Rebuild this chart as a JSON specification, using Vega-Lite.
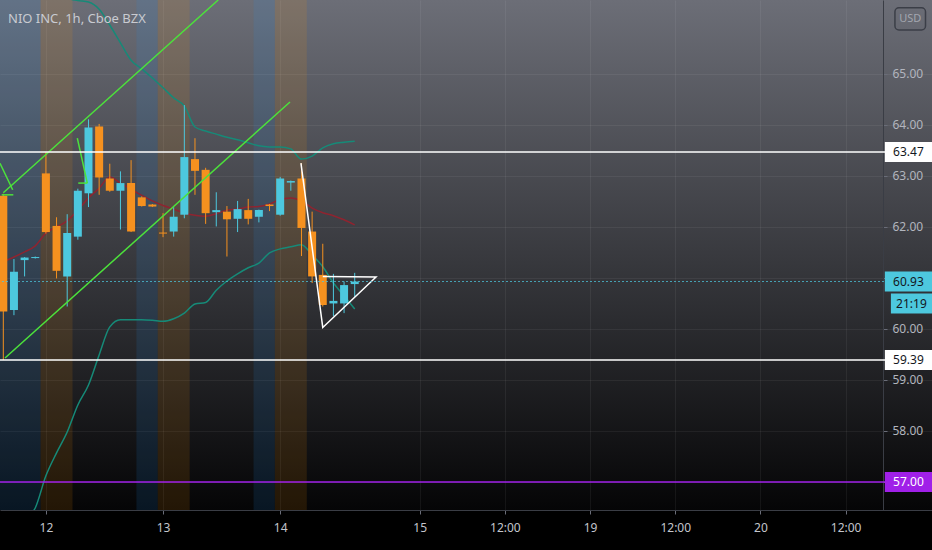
{
  "$schema": "https://vega.github.io/schema/vega-lite/v6.json",
  "width": 932,
  "height": 510,
  "autosize": {"type": "none"},
  "padding": {"left": 0, "top": 0, "right": 0, "bottom": 40},
  "background": "#000000",
  "title": {"text": "NIO INC, 1h, Cboe BZX", "anchor": "start", "frame": "group", "orient": "top", "offset": -36, "dx": 8, "baseline": "alphabetic", "fontSize": 13, "fontWeight": "normal", "font": "Noto Sans", "color": "#c9cbd1"},
  "config": {
    "view": {"stroke": null, "fill": {"gradient": "linear", "x1": 0, "y1": 0, "x2": 0, "y2": 1, "stops": [{"offset": 0, "color": "#6c6e77"}, {"offset": 1, "color": "#050506"}]}},
    "font": "Noto Sans",
    "scale": {"continuousPadding": 0}
  },
  "datasets": {
    "sessions": [
      {"s": -1.5, "e": 3.5, "kind": "post"},
      {"s": 3.5, "e": 6.5, "kind": "pre"},
      {"s": 12.5, "e": 14.5, "kind": "post"},
      {"s": 14.5, "e": 17.5, "kind": "pre"},
      {"s": 23.5, "e": 25.5, "kind": "post"},
      {"s": 25.5, "e": 28.5, "kind": "pre"}
    ],
    "candles": [
      {"i": 0, "o": 62.61, "h": 62.65, "l": 59.39, "c": 60.34},
      {"i": 1, "o": 60.37, "h": 61.37, "l": 60.27, "c": 61.12},
      {"i": 2, "o": 61.35, "h": 61.41, "l": 61.03, "c": 61.40},
      {"i": 3, "o": 61.39, "h": 61.42, "l": 61.38, "c": 61.41},
      {"i": 4, "o": 63.05, "h": 63.47, "l": 61.87, "c": 61.90},
      {"i": 5, "o": 62.02, "h": 62.19, "l": 60.99, "c": 61.14},
      {"i": 6, "o": 61.03, "h": 62.25, "l": 60.44, "c": 61.88},
      {"i": 7, "o": 61.81, "h": 62.75, "l": 61.75, "c": 62.71},
      {"i": 8, "o": 62.66, "h": 64.11, "l": 62.39, "c": 63.95},
      {"i": 9, "o": 63.97, "h": 64.02, "l": 62.63, "c": 62.97},
      {"i": 10, "o": 62.95, "h": 63.24, "l": 62.69, "c": 62.71},
      {"i": 11, "o": 62.71, "h": 63.09, "l": 61.95, "c": 62.86},
      {"i": 12, "o": 62.86, "h": 63.31, "l": 61.90, "c": 61.91},
      {"i": 13, "o": 62.58, "h": 62.60, "l": 62.40, "c": 62.41},
      {"i": 14, "o": 62.44, "h": 62.45, "l": 62.39, "c": 62.40},
      {"i": 15, "o": 61.89, "h": 62.27, "l": 61.80, "c": 61.87},
      {"i": 16, "o": 61.91, "h": 62.39, "l": 61.81, "c": 62.20},
      {"i": 17, "o": 62.24, "h": 64.39, "l": 62.17, "c": 63.37},
      {"i": 18, "o": 63.33, "h": 63.74, "l": 62.63, "c": 63.10},
      {"i": 19, "o": 63.12, "h": 63.16, "l": 62.06, "c": 62.27},
      {"i": 20, "o": 62.29, "h": 62.68, "l": 62.01, "c": 62.33},
      {"i": 21, "o": 62.30, "h": 62.41, "l": 61.42, "c": 62.15},
      {"i": 22, "o": 62.16, "h": 62.51, "l": 61.90, "c": 62.35},
      {"i": 23, "o": 62.33, "h": 62.55, "l": 62.05, "c": 62.16},
      {"i": 24, "o": 62.20, "h": 62.34, "l": 62.09, "c": 62.33},
      {"i": 25, "o": 62.44, "h": 62.45, "l": 62.31, "c": 62.41},
      {"i": 26, "o": 62.24, "h": 62.98, "l": 62.22, "c": 62.95},
      {"i": 27, "o": 62.87, "h": 62.91, "l": 62.71, "c": 62.90},
      {"i": 28, "o": 62.95, "h": 63.25, "l": 61.43, "c": 61.98},
      {"i": 29, "o": 61.91, "h": 62.30, "l": 60.90, "c": 61.03},
      {"i": 30, "o": 61.06, "h": 61.67, "l": 60.44, "c": 60.47},
      {"i": 31, "o": 60.50, "h": 61.08, "l": 60.25, "c": 60.55},
      {"i": 32, "o": 60.50, "h": 60.93, "l": 60.31, "c": 60.86},
      {"i": 33, "o": 60.88, "h": 61.10, "l": 60.63, "c": 60.93}
    ],
    "ind": [
      {"i": 0, "ma": 61.32, "up": 68.6, "lo": 55.47},
      {"i": 1, "ma": 61.41, "up": 68.1, "lo": 55.86},
      {"i": 2, "ma": 61.51, "up": 67.6, "lo": 56.25},
      {"i": 3, "ma": 61.63, "up": 67.2, "lo": 56.49},
      {"i": 4, "ma": 61.88, "up": 66.9, "lo": 57.12},
      {"i": 5, "ma": 62.00, "up": 66.65, "lo": 57.57},
      {"i": 6, "ma": 62.12, "up": 66.49, "lo": 57.98},
      {"i": 7, "ma": 62.33, "up": 66.44, "lo": 58.51},
      {"i": 8, "ma": 62.57, "up": 66.41, "lo": 58.90},
      {"i": 9, "ma": 62.76, "up": 66.27, "lo": 59.49},
      {"i": 10, "ma": 62.98, "up": 65.96, "lo": 60.04},
      {"i": 11, "ma": 62.86, "up": 65.61, "lo": 60.18},
      {"i": 12, "ma": 62.74, "up": 65.27, "lo": 60.18},
      {"i": 13, "ma": 62.62, "up": 65.10, "lo": 60.18},
      {"i": 14, "ma": 62.51, "up": 64.92, "lo": 60.17},
      {"i": 15, "ma": 62.42, "up": 64.73, "lo": 60.15},
      {"i": 16, "ma": 62.35, "up": 64.53, "lo": 60.20},
      {"i": 17, "ma": 62.27, "up": 64.37, "lo": 60.31},
      {"i": 18, "ma": 62.23, "up": 63.96, "lo": 60.49},
      {"i": 19, "ma": 62.21, "up": 63.88, "lo": 60.52},
      {"i": 20, "ma": 62.26, "up": 63.82, "lo": 60.76},
      {"i": 21, "ma": 62.33, "up": 63.76, "lo": 60.94},
      {"i": 22, "ma": 62.35, "up": 63.71, "lo": 61.08},
      {"i": 23, "ma": 62.39, "up": 63.65, "lo": 61.20},
      {"i": 24, "ma": 62.40, "up": 63.59, "lo": 61.29},
      {"i": 25, "ma": 62.45, "up": 63.57, "lo": 61.49},
      {"i": 26, "ma": 62.54, "up": 63.57, "lo": 61.57},
      {"i": 27, "ma": 62.57, "up": 63.53, "lo": 61.61},
      {"i": 28, "ma": 62.51, "up": 63.33, "lo": 61.65},
      {"i": 29, "ma": 62.37, "up": 63.39, "lo": 61.45},
      {"i": 30, "ma": 62.28, "up": 63.55, "lo": 61.22},
      {"i": 31, "ma": 62.22, "up": 63.63, "lo": 60.90},
      {"i": 32, "ma": 62.14, "up": 63.66, "lo": 60.65},
      {"i": 33, "ma": 62.04, "up": 63.68, "lo": 60.39}
    ],
    "green": [
      {"id": "chA", "ord": 0, "i": 0, "p": 62.67},
      {"id": "chA", "ord": 1, "i": 20.18, "p": 66.45},
      {"id": "chB", "ord": 0, "i": 0.16, "p": 59.43},
      {"id": "chB", "ord": 1, "i": 26.92, "p": 64.45},
      {"id": "z1a", "ord": 0, "i": -0.31, "p": 63.25},
      {"id": "z1a", "ord": 1, "i": 0.88, "p": 62.73},
      {"id": "z1b", "ord": 0, "i": -0.15, "p": 62.63},
      {"id": "z1b", "ord": 1, "i": 0.94, "p": 62.63},
      {"id": "z2a", "ord": 0, "i": 6.95, "p": 63.74},
      {"id": "z2a", "ord": 1, "i": 7.89, "p": 62.86},
      {"id": "z2b", "ord": 0, "i": 7.04, "p": 62.86},
      {"id": "z2b", "ord": 1, "i": 7.89, "p": 62.86}
    ],
    "white": [
      {"id": "tri", "ord": 0, "i": 27.95, "p": 63.25},
      {"id": "tri", "ord": 1, "i": 30.0, "p": 60.03},
      {"id": "tri", "ord": 2, "i": 35.0, "p": 61.02},
      {"id": "tri", "ord": 3, "i": 30.0, "p": 61.03}
    ],
    "hlines": [
      {"p": 63.47, "kind": "white"},
      {"p": 59.39, "kind": "white"},
      {"p": 57.0, "kind": "purple"}
    ],
    "tags": [
      {"p": 63.47, "label": "63.47", "kind": "white"},
      {"p": 59.39, "label": "59.39", "kind": "white"},
      {"p": 60.93, "label": "60.93", "kind": "cyan"},
      {"p": 57.0, "label": "57.00", "kind": "purple"}
    ]
  },
  "layer": [
    {
      "data": {"name": "sessions"},
      "mark": {"type": "rect", "opacity": 0.12},
      "encoding": {
        "x": {"field": "s", "type": "quantitative", "scale": {"domain": [-0.31, 87.21], "nice": false, "zero": false, "padding": 0},
          "axis": {"values": [4, 15, 26, 39.1, 47.1, 55.1, 63.1, 71.1, 79.1],
            "labelExpr": "datum.value==4?'12':datum.value==15?'13':datum.value==26?'14':datum.value==39.1?'15':datum.value==55.1?'19':datum.value==71.1?'20':'12:00'",
            "title": null, "grid": true, "gridColor": "#ffffff", "gridOpacity": 0.06,
            "domainColor": "#3a3d45", "tickColor": "#6a6d78", "tickSize": 4,
            "labelColor": "#c3c5cc", "labelFontSize": 12, "labelFont": "Noto Sans", "labelPadding": 8,
            "labelFlush": false, "labelOverlap": false}},
        "x2": {"field": "e"},
        "color": {"condition": {"test": "datum.kind=='pre'", "value": "#ff9800"}, "value": "#2196f3"}
      }
    },
    {
      "data": {"name": "ind"},
      "mark": {"type": "line", "color": "#168a78", "strokeWidth": 1.5, "interpolate": "monotone", "clip": true},
      "encoding": {
        "x": {"field": "i", "type": "quantitative", "title": null, "scale": {"domain": [-0.31, 87.21], "nice": false, "zero": false, "padding": 0}},
        "y": {"field": "up", "type": "quantitative", "scale": {"domain": [56.45, 66.45], "nice": false, "zero": false, "padding": 0},
          "axis": {"orient": "right", "offset": -49, "values": [57, 58, 59, 60, 61, 62, 63, 64, 65],
            "labelExpr": "datum.value==57||datum.value==61?'':format(datum.value,'.2f')",
            "title": null, "grid": true, "gridColor": "#ffffff", "gridOpacity": 0.06,
            "domainColor": "#3a3d45", "tickColor": "#6a6d78", "tickSize": 4, "labelPadding": 5,
            "labelColor": "#b2b5be", "labelFontSize": 12, "labelFont": "Noto Sans", "labelAlign": "left", "labelBaseline": "middle"}}
      }
    },
    {
      "data": {"name": "ind"},
      "mark": {"type": "line", "color": "#168a78", "strokeWidth": 1.5, "interpolate": "monotone", "clip": true},
      "encoding": {
        "x": {"field": "i", "type": "quantitative", "title": null, "scale": {"domain": [-0.31, 87.21], "nice": false, "zero": false, "padding": 0}},
        "y": {"field": "lo", "type": "quantitative", "title": null, "scale": {"domain": [56.45, 66.45], "nice": false, "zero": false, "padding": 0}}
      }
    },
    {
      "data": {"name": "ind"},
      "mark": {"type": "line", "color": "#8e2430", "strokeWidth": 1.5, "interpolate": "monotone", "clip": true},
      "encoding": {
        "x": {"field": "i", "type": "quantitative", "title": null, "scale": {"domain": [-0.31, 87.21], "nice": false, "zero": false, "padding": 0}},
        "y": {"field": "ma", "type": "quantitative", "title": null, "scale": {"domain": [56.45, 66.45], "nice": false, "zero": false, "padding": 0}}
      }
    },
    {
      "data": {"name": "candles"},
      "mark": {"type": "rule", "strokeWidth": 1, "clip": true},
      "encoding": {
        "x": {"field": "i", "type": "quantitative", "title": null, "scale": {"domain": [-0.31, 87.21], "nice": false, "zero": false, "padding": 0}},
        "y": {"field": "l", "type": "quantitative", "title": null, "scale": {"domain": [56.45, 66.45], "nice": false, "zero": false, "padding": 0}},
        "y2": {"field": "h"},
        "color": {"condition": {"test": "datum.c>=datum.o", "value": "#4dc8de"}, "value": "#f5911f"}
      }
    },
    {
      "data": {"name": "candles"},
      "mark": {"type": "bar", "width": 8, "clip": true},
      "encoding": {
        "x": {"field": "i", "type": "quantitative", "title": null, "scale": {"domain": [-0.31, 87.21], "nice": false, "zero": false, "padding": 0}},
        "y": {"field": "o", "type": "quantitative", "title": null, "scale": {"domain": [56.45, 66.45], "nice": false, "zero": false, "padding": 0}},
        "y2": {"field": "c"},
        "color": {"condition": {"test": "datum.c>=datum.o", "value": "#4dc8de"}, "value": "#f5911f"}
      }
    },
    {
      "data": {"name": "green"},
      "mark": {"type": "line", "color": "#4ce23b", "strokeWidth": 1.5, "clip": true},
      "encoding": {
        "x": {"field": "i", "type": "quantitative", "title": null, "scale": {"domain": [-0.31, 87.21], "nice": false, "zero": false, "padding": 0}},
        "y": {"field": "p", "type": "quantitative", "title": null, "scale": {"domain": [56.45, 66.45], "nice": false, "zero": false, "padding": 0}},
        "detail": {"field": "id"},
        "order": {"field": "ord"}
      }
    },
    {
      "data": {"name": "white"},
      "mark": {"type": "line", "color": "#ffffff", "strokeWidth": 1.5, "clip": true},
      "encoding": {
        "x": {"field": "i", "type": "quantitative", "title": null, "scale": {"domain": [-0.31, 87.21], "nice": false, "zero": false, "padding": 0}},
        "y": {"field": "p", "type": "quantitative", "title": null, "scale": {"domain": [56.45, 66.45], "nice": false, "zero": false, "padding": 0}},
        "detail": {"field": "id"},
        "order": {"field": "ord"}
      }
    },
    {
      "data": {"name": "hlines"},
      "mark": {"type": "rule", "strokeWidth": 1.5},
      "encoding": {
        "y": {"field": "p", "type": "quantitative", "title": null, "scale": {"domain": [56.45, 66.45], "nice": false, "zero": false, "padding": 0}},
        "color": {"condition": {"test": "datum.kind=='purple'", "value": "#a020e8"}, "value": "#ffffff"}
      }
    },
    {
      "data": {"values": [{"p": 60.93}]},
      "mark": {"type": "rule", "strokeWidth": 1, "strokeDash": [2, 2], "color": "#4dc8de", "opacity": 0.75},
      "encoding": {
        "y": {"field": "p", "type": "quantitative", "title": null, "scale": {"domain": [56.45, 66.45], "nice": false, "zero": false, "padding": 0}}
      }
    },
    {
      "data": {"name": "tags"},
      "mark": {"type": "bar", "orient": "horizontal", "height": 20},
      "encoding": {
        "x": {"datum": 82.78, "type": "quantitative", "title": null, "scale": {"domain": [-0.31, 87.21], "nice": false, "zero": false, "padding": 0}},
        "x2": {"datum": 87.21},
        "y": {"field": "p", "type": "quantitative", "title": null, "scale": {"domain": [56.45, 66.45], "nice": false, "zero": false, "padding": 0}},
        "color": {"condition": [{"test": "datum.kind=='purple'", "value": "#a020e8"}, {"test": "datum.kind=='cyan'", "value": "#4dc8de"}], "value": "#ffffff"}
      }
    },
    {
      "data": {"values": [{"p": 60.93, "label": "21:19"}]},
      "mark": {"type": "bar", "orient": "horizontal", "height": 20, "yOffset": 22, "color": "#4dc8de"},
      "encoding": {
        "x": {"datum": 83.35, "type": "quantitative", "title": null, "scale": {"domain": [-0.31, 87.21], "nice": false, "zero": false, "padding": 0}},
        "x2": {"datum": 87.21},
        "y": {"field": "p", "type": "quantitative", "title": null, "scale": {"domain": [56.45, 66.45], "nice": false, "zero": false, "padding": 0}}
      }
    },
    {
      "data": {"name": "tags"},
      "mark": {"type": "text", "fontSize": 12, "font": "Noto Sans", "align": "center", "baseline": "middle"},
      "encoding": {
        "x": {"datum": 85.0, "type": "quantitative", "title": null, "scale": {"domain": [-0.31, 87.21], "nice": false, "zero": false, "padding": 0}},
        "y": {"field": "p", "type": "quantitative", "title": null, "scale": {"domain": [56.45, 66.45], "nice": false, "zero": false, "padding": 0}},
        "text": {"field": "label"},
        "color": {"condition": {"test": "datum.kind=='purple'", "value": "#ffffff"}, "value": "#131722"}
      }
    },
    {
      "data": {"values": [{"p": 60.93, "label": "21:19"}]},
      "mark": {"type": "text", "fontSize": 12, "font": "Noto Sans", "align": "center", "baseline": "middle", "yOffset": 22, "color": "#131722"},
      "encoding": {
        "x": {"datum": 85.28, "type": "quantitative", "title": null, "scale": {"domain": [-0.31, 87.21], "nice": false, "zero": false, "padding": 0}},
        "y": {"field": "p", "type": "quantitative", "title": null, "scale": {"domain": [56.45, 66.45], "nice": false, "zero": false, "padding": 0}},
        "text": {"field": "label"}
      }
    },
    {
      "data": {"values": [{"t": "USD"}]},
      "mark": {"type": "rect", "cornerRadius": 4, "fill": "transparent", "stroke": "#3b3e47", "strokeWidth": 1.5},
      "encoding": {
        "x": {"datum": 83.73, "type": "quantitative", "title": null, "scale": {"domain": [-0.31, 87.21], "nice": false, "zero": false, "padding": 0}},
        "x2": {"datum": 86.6},
        "y": {"datum": 66.296, "type": "quantitative", "title": null, "scale": {"domain": [56.45, 66.45], "nice": false, "zero": false, "padding": 0}},
        "y2": {"datum": 65.864}
      }
    },
    {
      "data": {"values": [{"t": "USD"}]},
      "mark": {"type": "text", "fontSize": 11, "font": "Noto Sans", "align": "center", "baseline": "middle", "color": "#a3a6af"},
      "encoding": {
        "x": {"datum": 85.17, "type": "quantitative", "title": null, "scale": {"domain": [-0.31, 87.21], "nice": false, "zero": false, "padding": 0}},
        "y": {"datum": 66.08, "type": "quantitative", "title": null, "scale": {"domain": [56.45, 66.45], "nice": false, "zero": false, "padding": 0}},
        "text": {"field": "t"}
      }
    }
  ]
}
